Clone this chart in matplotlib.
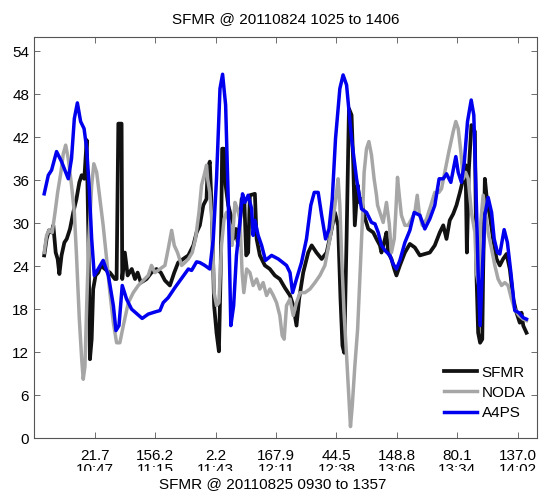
import matplotlib.pyplot as plt
from matplotlib.patches import Rectangle

plt.rcParams['font.family'] = ['Liberation Sans', 'DejaVu Sans']

# minutes after 10:25 and wind speed (kt)
sfmr_t = [-1.4, -0.3, 0.8, 2.0, 2.8, 3.9, 4.8, 5.6, 6.6, 7.9, 9.0, 10.5, 12.0, 13.5, 14.8, 15.9, 17.1, 18.2,
          19.0, 19.7, 20.5, 21.2, 22.3, 23.5, 24.8, 26.6, 28.9, 31.2, 32.0, 32.8, 34.3, 34.6, 35.8, 37.1, 39.0,
          40.5, 41.7, 43.2, 45.8, 48.1, 50.4, 52.4, 54.3, 56.6, 58.6, 60.4, 62.7, 65.1, 67.4, 68.9, 70.4, 72.0,
          73.5, 74.0, 75.0, 76.1, 77.0, 78.1, 79.2, 80.0, 80.7, 81.5, 82.3, 83.5, 84.7, 85.8, 87.0, 88.1, 89.7,
          90.9, 91.8, 92.7, 93.5, 95.8, 96.6, 98.1, 100.4, 102.7, 105.0, 107.3, 109.6, 112.0, 113.5, 115.0,
          116.2, 118.1, 120.4, 122.0, 124.2, 126.6, 128.9, 130.9, 132.7, 134.2, 135.3, 136.2, 137.0, 138.1,
          139.2, 140.4, 141.2, 141.9, 143.2, 144.2, 145.0, 146.2, 148.1, 150.4, 151.9, 153.5, 154.2, 155.8,
          156.5, 157.3, 158.8, 160.1, 161.1, 162.7, 165.0, 167.3, 169.6, 171.9, 174.2, 176.5, 178.8, 181.1,
          182.7, 184.2, 185.7, 187.3, 188.8, 190.4, 191.9, 193.0, 193.6, 194.5, 195.7, 197.3, 198.0, 198.8,
          199.7, 200.7, 201.1, 201.9, 203.1, 204.2, 205.7, 207.3, 208.8, 210.3, 211.9, 213.4, 215.0, 216.5,
          218.0, 218.8, 219.6, 221.1]
sfmr_v = [25.5, 27.8, 29.0, 28.7, 29.7, 25.9, 25.0, 22.9, 25.5, 27.3, 27.8, 29.2, 31.5, 33.4, 35.7, 36.7, 36.2, 41.6,
          27.8, 11.0, 13.8, 20.8, 22.7, 23.1, 24.1, 23.6, 23.1, 22.2, 22.2, 43.9, 43.9, 22.2, 25.9, 22.7, 23.6,
          22.2, 23.1, 21.7, 22.2, 23.1, 23.6, 23.1, 22.0, 21.3, 23.1, 24.5, 25.0, 25.5, 26.9, 28.7, 29.7, 32.5,
          33.4, 37.6, 38.6, 30.1, 18.5, 14.7, 12.1, 23.1, 40.4, 40.4, 35.3, 32.5, 31.1, 27.8, 29.2, 26.9, 33.4,
          33.4, 25.5, 25.9, 33.9, 34.1, 27.8, 25.5, 24.1, 23.6, 22.7, 22.2, 21.0, 19.9, 18.5, 15.7,
          19.4, 23.1, 25.9, 26.9, 25.9, 25.0, 25.9, 28.7, 31.5, 29.7, 19.4, 12.9, 11.9, 27.8,
          46.0, 45.1, 38.1, 29.7, 35.3, 32.9, 33.4, 31.1, 29.2, 28.7, 27.8, 26.9, 25.9, 27.8,
          28.7, 25.9, 25.0, 23.6, 22.7, 24.1, 25.9, 27.1, 26.6, 25.5, 25.7, 25.9, 26.9, 28.7,
          29.7, 27.8, 30.4, 31.3, 32.5, 34.3, 36.2, 38.1, 25.9, 37.4, 43.7, 42.8, 23.1, 14.7,
          13.3, 13.8, 23.1, 36.2, 32.5, 31.1, 27.8, 25.0, 24.1, 25.0, 25.7, 23.6, 19.4, 17.5,
          16.1, 17.5, 15.7, 14.7]

noda_t = [-1.4, -0.3, 0.8, 2.3, 3.6, 4.8, 6.3, 7.4, 8.5, 9.7, 11.2, 12.5, 13.5, 14.8, 15.9, 16.6, 17.4, 18.2, 19.2,
          20.5, 21.5, 22.8, 24.3, 25.8, 27.4, 28.9, 30.5, 32.0, 33.5, 35.1, 37.4, 39.7, 42.0, 44.3, 46.6, 48.1,
          49.7, 52.0, 54.3, 55.8, 57.4, 58.6, 60.1, 62.0, 63.5, 65.1, 66.9, 68.4, 70.0, 71.2, 72.4, 73.5, 74.0,
          75.0, 76.1, 77.0, 78.1, 79.2, 80.4, 81.6, 82.7, 84.3, 85.3, 86.6, 87.7, 88.9, 89.9, 90.7, 92.0, 93.5,
          95.0, 96.6, 98.1, 99.6, 101.2, 102.7, 104.3, 105.8, 107.3, 108.4, 109.3, 110.4, 112.0, 113.5, 115.0,
          116.6, 118.9, 121.2, 123.5, 125.8, 128.1, 130.4, 131.9, 133.5, 134.2, 135.0, 135.8, 137.0, 138.1,
          139.2, 139.9, 140.7, 141.9, 143.2, 144.2, 145.3, 146.2, 147.3, 148.4, 149.6, 150.8, 151.9, 152.4,
          153.5, 155.0, 156.5, 157.8, 158.8, 160.1, 160.8, 161.6, 162.4, 163.4, 165.0, 166.5, 168.1, 169.6,
          170.7, 171.6, 173.0, 175.0, 177.0, 178.8, 180.7, 181.9, 183.4, 185.3, 187.3, 188.5, 189.6, 190.8,
          191.9, 193.0, 194.2, 195.7, 197.3, 198.0, 199.1, 200.0, 201.1, 202.2, 203.4, 205.0, 206.5, 208.0,
          209.6, 211.1, 212.6, 214.2, 215.7, 217.6, 219.6, 221.1]
noda_v = [25.9, 28.3, 29.0, 28.7, 31.5, 34.3, 37.1, 39.7, 40.9, 39.0, 35.3, 31.5, 25.5, 16.6, 11.0, 8.2, 10.0, 18.5, 27.8,
          35.3, 38.3, 37.1, 33.4, 29.7, 25.0, 20.3, 16.1, 13.3, 13.3, 15.7, 18.9, 20.3, 21.3, 22.0, 22.7, 24.1,
          23.1, 23.6, 24.1, 26.4, 29.0, 26.9, 25.9, 24.1, 24.5, 25.0, 25.9, 27.8, 31.5, 35.3, 36.7, 38.1, 36.2,
          34.3, 29.7, 20.3, 18.5, 18.9, 26.9, 30.6, 31.5, 29.7, 26.9, 32.9, 32.0, 30.6, 23.1, 20.3, 23.6, 23.1,
          21.3, 22.2, 20.8, 21.7, 19.9, 20.8, 19.9, 18.9, 17.1, 14.3, 13.8, 18.5, 19.4, 17.1, 18.9,
          20.3, 20.3, 20.8, 21.7, 22.7, 24.1, 27.8, 30.6, 34.3, 36.2, 32.5, 25.5, 17.1, 11.5,
          5.4, 1.6, 4.4, 10.0, 15.2, 22.2, 29.7, 37.1, 40.4, 41.4, 39.5, 36.2, 33.9, 32.5,
          31.5, 30.1, 32.9, 29.9, 25.9, 27.8, 31.5, 36.4, 33.9, 31.1, 29.7, 29.7, 30.6, 31.5,
          33.9, 31.5, 29.7, 30.6, 32.5, 34.3, 34.3, 34.8, 37.1, 40.0, 42.8, 44.2, 43.2, 40.0,
          36.2, 37.1, 36.2, 31.5, 28.7, 23.1, 21.3, 30.1, 33.9, 31.5, 28.7, 26.4, 24.1, 22.2,
          21.3, 21.7, 21.3, 19.4, 18.0, 17.1, 16.6, 16.4]

a4ps_t = [-1.4, 0.5, 2.0, 4.3, 6.6, 9.7, 11.2, 12.5, 13.9, 15.4, 17.0, 18.2, 19.4, 20.5, 21.7, 23.5, 25.8, 28.2,
          30.5, 31.7, 33.1, 34.6, 36.6, 38.9, 43.8, 46.6, 49.7, 52.0, 53.5, 55.8, 58.9, 62.0, 65.1, 66.6, 68.9,
          70.4, 72.7, 75.0, 76.6, 78.1, 79.7, 80.9, 82.3, 83.5, 84.7, 86.0, 87.3, 88.9, 90.1, 91.2, 92.7, 94.3,
          95.0, 95.8, 97.3, 98.9, 100.7, 103.5, 106.6, 110.4, 112.0, 113.2, 115.0, 117.3, 119.6, 121.6, 123.2,
          125.0, 126.6, 128.4, 130.0, 131.5, 133.0, 135.0, 136.5, 138.1, 140.4, 142.7, 145.0, 147.3, 149.6,
          151.2, 152.7, 154.2, 155.8, 158.1, 159.6, 161.1, 162.7, 165.0, 167.3, 169.3, 171.9, 174.2, 176.5,
          178.8, 180.8, 182.7, 184.2, 186.2, 188.5, 189.6, 191.1, 192.4, 193.9, 195.6, 196.8, 198.0, 198.8,
          199.7, 200.7, 201.9, 203.4, 205.0, 206.2, 207.7, 208.8, 210.8, 212.3, 213.9, 215.7, 217.6, 219.6,
          221.1]
a4ps_v = [34.1, 36.7, 37.4, 40.0, 38.6, 36.2, 39.0, 44.6, 46.8, 44.2, 43.2, 40.4, 34.8, 27.8, 22.7, 23.6, 24.8, 22.7,
          18.5, 15.0, 15.7, 21.3, 19.4, 18.0, 16.7, 17.3, 17.6, 17.8, 18.9, 19.6, 21.0, 22.3, 23.6, 23.4, 24.6,
          24.5, 24.1, 23.6, 27.8, 36.2, 48.8, 50.8, 46.5, 33.4, 15.7, 18.5, 25.5, 30.1, 34.1, 32.9, 33.9, 32.0,
          28.3, 30.4, 28.3, 26.9, 24.8, 25.5, 25.0, 24.1, 23.1, 20.3, 22.2, 24.5, 27.8, 32.5, 34.3,
          34.3, 31.1, 27.8, 29.2, 33.4, 41.8, 48.8, 50.7, 49.3, 41.8, 36.2, 32.0, 31.5, 30.1,
          29.9, 28.7, 26.9, 26.2, 25.5, 24.3, 23.6, 24.8, 27.3, 29.0, 31.5, 31.1, 29.2, 30.6,
          32.5, 36.2, 36.2, 36.9, 35.7, 39.3, 37.1, 35.7, 38.5, 44.2, 47.2, 45.1, 32.5, 23.1,
          15.7, 23.1, 31.1, 33.6, 31.5, 27.8, 25.9, 25.7, 29.1, 27.3, 23.1, 17.8, 17.5, 16.8,
          16.6]

dir_labels = ['21.7', '156.2', '2.2', '167.9', '44.5', '148.8', '80.1', '137.0']
time_labels = ['10:47', '11:15', '11:43', '12:11', '12:38', '13:06', '13:34', '14:02']
tick_pos = [22 + 27.86 * i for i in range(8)]

fig = plt.figure(figsize=(5.46, 5.0), dpi=100)
ax = fig.add_axes([0.0623, 0.124, 0.921, 0.802])

ax.plot(sfmr_t, sfmr_v, color='#111111', lw=2.7, label='SFMR')
ax.plot(noda_t, noda_v, color='#a6a6a6', lw=2.5, label='NODA')
ax.plot(a4ps_t, a4ps_v, color='#0000ee', lw=2.5, label='A4PS')

ax.set_xlim(-6.1, 225.9)
ax.set_ylim(0, 56)
ax.set_yticks(range(0, 55, 6))
ax.set_xticks(tick_pos)
ax.set_xticklabels([d + '\n' + t for d, t in zip(dir_labels, time_labels)], linespacing=0.95)
ax.tick_params(axis='x', pad=8)
ax.tick_params(direction='in', length=4, width=0.6, color='#555555', labelsize=11,
               top=True, right=True)
for s in ax.spines.values():
    s.set_color('#555555')
    s.set_linewidth(0.8)

ax.set_title('SFMR @ 20110824 1025 to 1406', fontsize=11, pad=10)
ax.legend(loc='lower right', bbox_to_anchor=(0.99, 0.03), borderaxespad=0, frameon=False,
          fontsize=11, handlelength=2.2, handletextpad=0.3, labelspacing=0.4)

# second label row is partly hidden behind the bottom caption
fig.add_artist(Rectangle((0, 0), 1, 0.058, transform=fig.transFigure,
                         facecolor='white', edgecolor='none', zorder=5))
fig.text(0.5, 0.032, 'SFMR @ 20110825 0930 to 1357', ha='center', va='center',
         fontsize=11, zorder=6)

fig.savefig('out.png', dpi=100)
